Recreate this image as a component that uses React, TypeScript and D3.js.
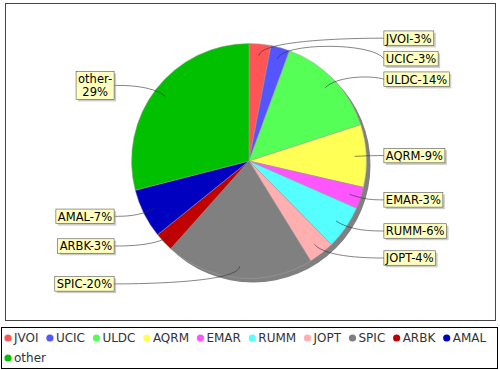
import React from 'react'
import * as d3 from 'd3'

// slices, clockwise from 12 o'clock
const names = ['JVOI', 'UCIC', 'ULDC', 'AQRM', 'EMAR', 'RUMM', 'JOPT', 'SPIC', 'ARBK', 'AMAL', 'other']
const values = [3.0, 2.6, 14.4, 8.6, 3.0, 6.0, 3.6, 20.4, 2.6, 6.8, 29.0]
const colors = ['#ff5555', '#5555ff', '#55ff55', '#ffff55', '#ff55ff', '#55ffff', '#ffafaf', '#808080', '#c00000', '#0000c0', '#00c000']

const W = 500
const H = 370
const FONT = 'DejaVu Sans'

let ctx: CanvasRenderingContext2D | null = null
function measure(s: string, size: number) {
    if (!ctx) ctx = document.createElement('canvas').getContext('2d')
    ctx!.font = `${size}px "${FONT}"`
    return ctx!.measureText(s).width
}

export default function App() {
    const cx = 249, cy = 161, r = 117.5
    const linkR = r * 1.05
    const gap = 11.5
    const labelSize = 11.5
    const lineH = 13.5

    const total = d3.sum(values)
    const arcs = d3.pie<number>().sort(null).value(d => d)(values)
    const arc = d3.arc<d3.PieArcDatum<number>>().innerRadius(0).outerRadius(r)

    // label records
    const labels = arcs.map((a, i) => {
        const mid = (a.startAngle + a.endAngle) / 2
        const right = mid < Math.PI
        const pct = Math.round(values[i] / total * 100)
        const text = `${names[i]}-${pct}%`
        const maxW = right ? 75 : 58
        const lines = measure(text, labelSize) > maxW ? [`${names[i]}-`, `${pct}%`] : [text]
        const w = d3.max(lines, l => measure(l, labelSize))! + 4
        const h = lines.length * lineH + 1
        const ey = cy - Math.cos(mid) * linkR
        return { i, mid, right, lines, w, h, ey, y: ey }
    })

    // push overlapping labels apart on each side
    for (const side of [true, false]) {
        const group = labels.filter(l => l.right === side).sort((a, b) => a.ey - b.ey)
        for (let k = 1; k < group.length; k++) {
            const prev = group[k - 1]
            const minY = prev.y + (prev.h + group[k].h) / 2 + 6
            if (group[k].y < minY) group[k].y = minY
        }
    }

    // legend flow layout
    const legendSize = 12
    const legendItems: { i: number, x: number, y: number }[] = []
    let lx = 14, row = 0
    names.forEach((n, i) => {
        const tw = measure(n, legendSize)
        if (lx + tw > W - 8) { lx = 14; row++ }
        legendItems.push({ i, x: lx, y: 338 + row * 20 })
        lx += tw + 17.4
    })

    return (
        <svg width={W} height={H} style={{ position: 'absolute', left: 0, top: 0, background: '#fff' }}
            fontFamily={FONT}>
            <rect x={5.5} y={3.5} width={490} height={317} fill='#fff' stroke='#444' />
            {/* shadow */}
            <circle cx={cx + 4} cy={cy + 4} r={r} fill='#808080' />
            <g transform={`translate(${cx},${cy})`}>
                {arcs.map((a, i) => (
                    <path key={names[i]} d={arc(a)!} fill={colors[i]} stroke='#a0a0a0' strokeWidth={0.5} />
                ))}
            </g>
            {labels.map(l => {
                const lx0 = cx + Math.sin(l.mid) * r * 0.9
                const ly0 = cy - Math.cos(l.mid) * r * 0.9
                const elbowX = cx + Math.sin(l.mid) * linkR
                const anchorX = l.right ? cx + linkR : cx - linkR
                const targetX = l.right ? anchorX + gap : anchorX - gap
                const p = d3.path()
                p.moveTo(targetX, l.y)
                p.bezierCurveTo(anchorX, l.ey, elbowX, l.ey, lx0, ly0)
                const bx = l.right ? targetX : targetX - l.w
                const by = l.y - l.h / 2
                return (
                    <g key={'lab' + l.i}>
                        <path d={p.toString()} fill='none' stroke='#333' strokeWidth={0.6} />
                        <rect x={bx + 2} y={by + 2} width={l.w} height={l.h} fill='#979797' fillOpacity={0.5} />
                        <rect x={bx} y={by} width={l.w} height={l.h} fill='#ffffc0' stroke='#555' strokeWidth={0.6} />
                        {l.lines.map((t, k) => (
                            <text key={k} x={bx + l.w / 2} y={by + 1 + k * lineH + 10.6} fontSize={labelSize}
                                textAnchor='middle' fill='#000'>{t}</text>
                        ))}
                    </g>
                )
            })}
            <rect x={1.5} y={327.5} width={496} height={41} fill='#fff' stroke='#000' />
            {legendItems.map(it => (
                <g key={'leg' + it.i}>
                    <circle cx={it.x - 6} cy={it.y} r={3.6} fill={colors[it.i]} />
                    <text x={it.x} y={it.y + 4.3} fontSize={legendSize} fill='#333'>{names[it.i]}</text>
                </g>
            ))}
        </svg>
    )
}
